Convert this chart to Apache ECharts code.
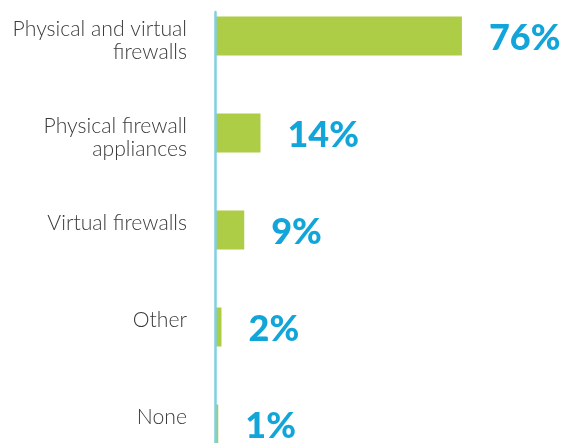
<!DOCTYPE html>
<html><head><meta charset="utf-8">
<script src="https://cdn.jsdelivr.net/npm/echarts@6/dist/echarts.min.js"></script>
<style>html,body{margin:0;padding:0;background:#fff}#c{width:561px;height:443px}</style>
</head><body><div id="c"></div>
<script>
const categories = ['Physical and virtual\nfirewalls', 'Physical firewall\nappliances', 'Virtual firewalls', 'Other', 'None'];
const values = [76, 14, 9, 2, 1];
const labelSuffix = '%';

const chart = echarts.init(document.getElementById('c'), null, {renderer: 'canvas'});
chart.setOption({
  animation: false,
  backgroundColor: '#ffffff',
  grid: [
    {left: 215, right: 0, top: -12.5, bottom: -29.5, containLabel: false, outerBoundsMode: 'none'},
    {left: 215, width: 10, top: 12, bottom: -30, containLabel: false, outerBoundsMode: 'none'}
  ],
  xAxis: [
    {type: 'value', gridIndex: 0, min: 0, max: 106.5, show: false},
    {type: 'value', gridIndex: 1, show: false}
  ],
  yAxis: [
    {
      type: 'category', gridIndex: 0, inverse: true, data: categories,
      axisLine: {show: false}, axisTick: {show: false}, splitLine: {show: false},
      axisLabel: {
        margin: 28, color: '#3a3a3a', fontFamily: 'Lato', fontWeight: 300,
        fontSize: 21.2, lineHeight: 23, verticalAlign: 'top', padding: [-18, 0, 0, 0]
      }
    },
    {
      type: 'value', gridIndex: 1, z: 10,
      axisLine: {show: true, lineStyle: {color: '#7fcfe0', width: 2.5}},
      axisTick: {show: false}, axisLabel: {show: false}, splitLine: {show: false}
    }
  ],
  series: [{
    type: 'bar', xAxisIndex: 0, yAxisIndex: 0, data: values, barWidth: 39,
    itemStyle: {color: '#adcd46'},
    label: {
      show: true, position: 'right', distance: 27, offset: [0, 2.5],
      formatter: p => p.value + labelSuffix,
      color: '#12a5d9', fontFamily: 'Lato', fontWeight: 900, fontSize: 36
    }
  }]
});
</script></body></html>
